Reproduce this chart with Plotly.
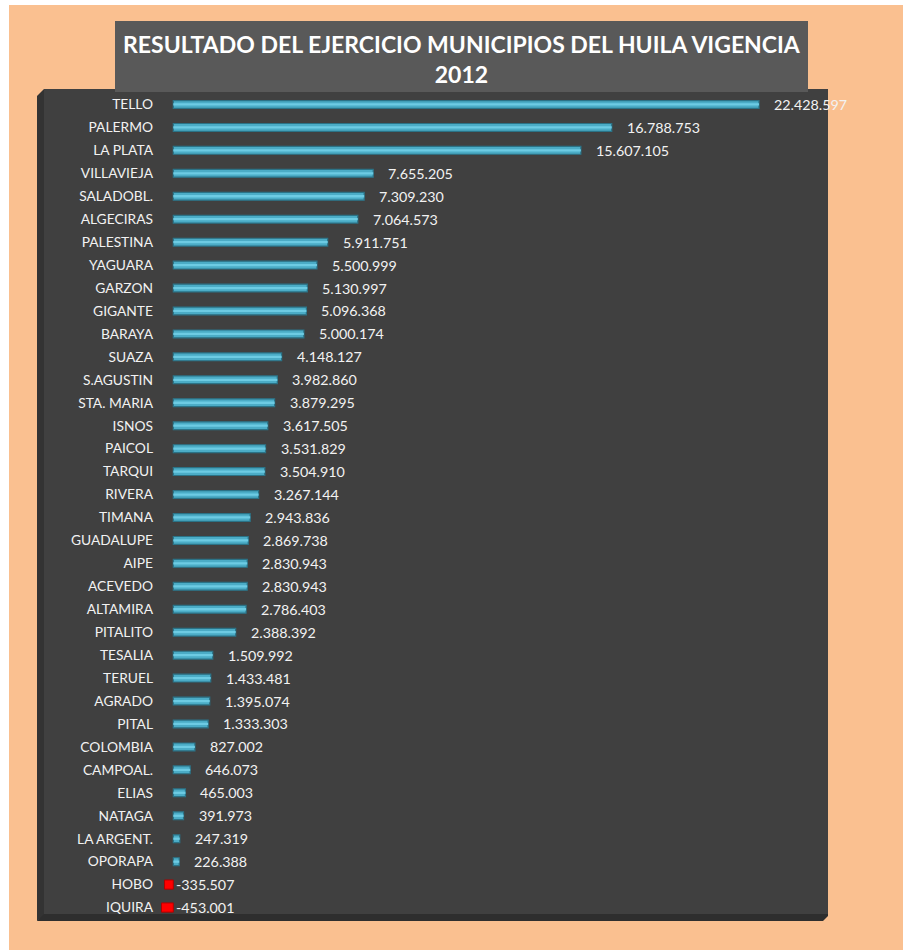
import plotly.graph_objects as go

# Resultado del ejercicio por municipio (pesos)
municipios = [
    "TELLO", "PALERMO", "LA PLATA", "VILLAVIEJA", "SALADOBL.", "ALGECIRAS",
    "PALESTINA", "YAGUARA", "GARZON", "GIGANTE", "BARAYA", "SUAZA",
    "S.AGUSTIN", "STA. MARIA", "ISNOS", "PAICOL", "TARQUI", "RIVERA",
    "TIMANA", "GUADALUPE", "AIPE", "ACEVEDO", "ALTAMIRA", "PITALITO",
    "TESALIA", "TERUEL", "AGRADO", "PITAL", "COLOMBIA", "CAMPOAL.",
    "ELIAS", "NATAGA", "LA ARGENT.", "OPORAPA", "HOBO", "IQUIRA",
]
resultado = [
    22428597, 16788753, 15607105, 7655205, 7309230, 7064573,
    5911751, 5500999, 5130997, 5096368, 5000174, 4148127,
    3982860, 3879295, 3617505, 3531829, 3504910, 3267144,
    2943836, 2869738, 2830943, 2830943, 2786403, 2388392,
    1509992, 1433481, 1395074, 1333303, 827002, 646073,
    465003, 391973, 247319, 226388, -335507, -453001,
]
titulo = "RESULTADO DEL EJERCICIO MUNICIPIOS DEL HUILA VIGENCIA<br>2012"

W, H = 903, 950
ML, MR, MT, MB = 158, 75, 93, 31
PW, PH = W - ML - MR, H - MT - MB

PEACH = "#FAC090"
PANEL = "#404040"
TITLE_BOX = "#595959"
CYAN = "#4BACC6"
CYAN_EDGE = "#2B7387"
CYAN_LIGHT = "#6DCBE3"


def px(x):
    return (x - ML) / PW


def py(y):
    return (H - MB - y) / PH


def fmt(v):
    return f"{v:,}".replace(",", ".")


positivos = [v if v >= 0 else None for v in resultado]
negativos = [v if v < 0 else None for v in resultado]

fig = go.Figure()
fig.add_trace(go.Bar(
    y=municipios, x=positivos, orientation="h", width=0.34,
    marker=dict(color=CYAN, line=dict(color=CYAN_EDGE, width=1.2)),
    hoverinfo="skip",
))
# brillo central de las barras
fig.add_trace(go.Bar(
    y=municipios, x=positivos, orientation="h", width=0.1,
    marker=dict(color=CYAN_LIGHT, line=dict(width=0)),
    hoverinfo="skip",
))
fig.add_trace(go.Bar(
    y=municipios, x=negativos, orientation="h", width=0.4,
    marker=dict(color="#FF0000", line=dict(color="#B00000", width=1)),
    hoverinfo="skip",
))

annotations = []
for m, v in zip(municipios, resultado):
    annotations.append(dict(
        x=max(v, 0), y=m, xref="x", yref="y", text=fmt(v),
        showarrow=False, xanchor="left", yanchor="middle",
        xshift=13 if v >= 0 else 1,
        font=dict(family="Lato", size=14.3, color="#F2F2F2"),
    ))

annotations.append(dict(
    x=px(461.5), y=py(59), xref="paper", yref="paper", text=titulo,
    showarrow=False, xanchor="center", yanchor="middle", align="center",
    font=dict(family="Lato", size=23, color="white", weight="bold"),
))

shapes = [
    # fondo durazno
    dict(type="rect", xref="paper", yref="paper", x0=px(9), x1=px(910),
         y0=py(5), y1=py(960), fillcolor=PEACH, line_width=0, layer="below"),
    # pared izquierda del panel
    dict(type="path", xref="paper", yref="paper",
         path=f"M {px(37)} {py(96)} L {px(44)} {py(89)} L {px(44)} {py(916)} "
              f"L {px(37)} {py(921)} Z",
         fillcolor="#333333", line_width=0, layer="below"),
    # piso del panel
    dict(type="path", xref="paper", yref="paper",
         path=f"M {px(37)} {py(921)} L {px(44)} {py(914)} L {px(828)} {py(914)} "
              f"L {px(828)} {py(916)} L {px(823)} {py(921)} Z",
         fillcolor="#2E2E2E", line_width=0, layer="below"),
    # panel principal
    dict(type="rect", xref="paper", yref="paper", x0=px(44), x1=px(828),
         y0=py(914), y1=py(89), fillcolor=PANEL, line_width=0, layer="below"),
    # caja del titulo
    dict(type="rect", xref="paper", yref="paper", x0=px(115), x1=px(808),
         y0=py(92), y1=py(21), fillcolor=TITLE_BOX, line_width=0, layer="below"),
]

fig.update_layout(
    width=W, height=H,
    margin=dict(l=ML, r=MR, t=MT, b=MB, pad=0),
    paper_bgcolor="white",
    plot_bgcolor="rgba(0,0,0,0)",
    barmode="overlay",
    showlegend=False,
    shapes=shapes,
    annotations=annotations,
    xaxis=dict(range=[-586000, 25070000], visible=False, fixedrange=True),
    yaxis=dict(
        autorange="reversed", showgrid=False, zeroline=False, showline=False,
        ticks="", ticklabelstandoff=4,
        tickfont=dict(family="Lato", size=13.8, color="#F2F2F2"),
    ),
)

fig.write_html("out.html")
